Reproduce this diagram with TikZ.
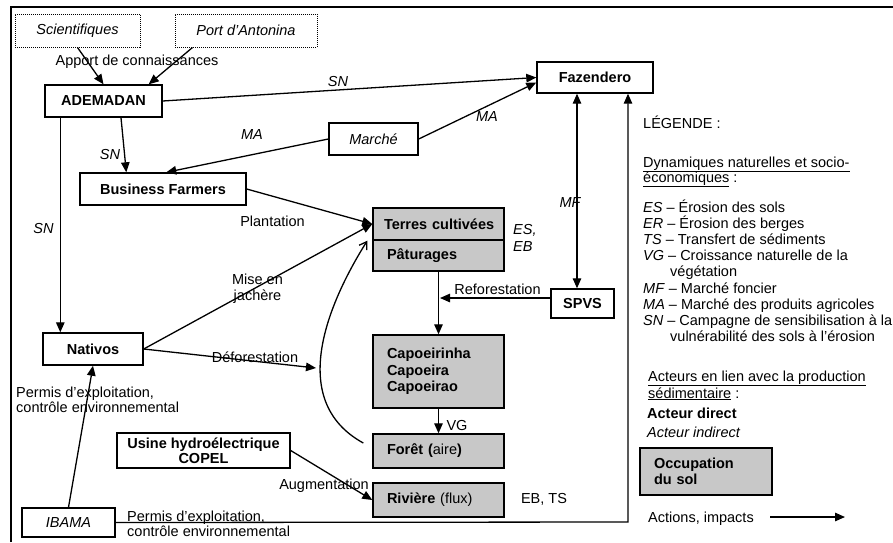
\documentclass[tikz,border=0pt]{standalone}
\usepackage{fontspec}
\setmainfont{Liberation Sans}
\usetikzlibrary{arrows.meta,calc}
\definecolor{boxgray}{RGB}{200,200,200}
\newcommand{\myfs}{\fontsize{14.5}{16.5}\selectfont}
\begin{document}
\begin{tikzpicture}[x=1pt,y=-1pt,
  every node/.style={font=\myfs, inner sep=0pt},
  bx/.style={draw, line width=1.4pt, align=center},
  dbx/.style={draw, line width=1pt, dash pattern=on 1pt off 1pt, align=center},
  gbx/.style={draw, line width=1.4pt, fill=boxgray, align=left, text width=103pt, inner xsep=14pt, minimum width=131pt, font=\myfs\bfseries},
  bold/.style={font=\myfs\bfseries},
  ital/.style={font=\myfs\itshape},
  arr/.style={line width=1.3pt, -{Triangle[length=10pt,width=8.5pt]}},
  dblarr/.style={line width=1.3pt, {Triangle[length=10pt,width=8.5pt]}-{Triangle[length=10pt,width=8.5pt]}},
  ln/.style={line width=1.3pt},
  leg/.style={anchor=base west},
]
\useasboundingbox (0,0) rectangle (893,542);
% frame
\draw[line width=2pt] (11,542) -- (11,7) -- (893,7);

% boxes
\node[dbx, ital, minimum width=125pt, minimum height=33pt] (sci) at (77.5,30.5) {Scientifiques};
\node[dbx, ital, minimum width=142pt, minimum height=33pt] (port) at (246,30.5) {Port d’Antonina};
\node[bx, bold, minimum width=117pt, minimum height=32pt] (adem) at (103.5,101) {ADEMADAN};
\node[bx, bold, minimum width=116pt, minimum height=31pt] (faz) at (595,77.5) {Fazendero};
\node[bx, ital, minimum width=89pt, minimum height=32pt] (marche) at (373.5,139) {Marché};
\node[bx, bold, minimum width=166pt, minimum height=32pt] (bf) at (163,189) {Business Farmers};
\node[gbx, inner xsep=9pt, text width=113pt, minimum height=32pt] (terres) at (438.5,224) {\hspace*{2pt}Terres cultivées};
\node[gbx, minimum height=31pt] (patur) at (438.5,255.5) {Pâturages};
\node[bx, bold, minimum width=63pt, minimum height=29pt] (spvs) at (582.5,303.5) {SPVS};
\node[bx, bold, minimum width=100pt, minimum height=32pt] (nativos) at (93,349) {Nativos};
\node[gbx, minimum height=73pt] (capo) at (438.5,371.5) {Capoeirinha\\Capoeira\\Capoeirao};
\node[gbx, minimum height=34pt] (foret) at (438.5,451) {Forêt (\textmd{aire})};
\node[gbx, minimum height=34pt] (riv) at (438.5,500) {Rivière \textmd{(flux)}};
\node[bx, bold, minimum width=173pt, minimum height=35pt, font=\fontsize{14.5}{15}\selectfont\bfseries] (usine) at (203.5,450.5) {Usine hydroélectrique\\COPEL};
\node[bx, ital, minimum width=93pt, minimum height=29pt] (ibama) at (68.5,522.5) {IBAMA};
\node[gbx, text width=104pt, minimum width=132pt, minimum height=47pt, font=\fontsize{14.5}{15.5}\selectfont\bfseries] (occup) at (706,471.5) {Occupation\\du sol};

% labels
\node (lapport) at (137,62) {Apport de connaissances};
\node[ital] (lsn1) at (338,82) {SN};
\node[ital] (lma1) at (252,135) {MA};
\node[ital] (lma2) at (487,117) {MA};
\node[ital] (lsn2) at (110,155) {SN};
\node[ital] (lsn3) at (43.5,228) {SN};
\node[ital] (lmf) at (570,203) {MF};
\node[ital, align=left, anchor=west] (leseb) at (513,238) {ES,\\EB};
\node (lplant) at (272.5,221) {Plantation};
\node[align=center] (lmise) at (257.5,288.5) {Mise en\\jachère};
\node (lrefo) at (497.5,289) {Reforestation};
\node (ldefo) at (255,357) {Déforestation};
\node[align=left, anchor=west, font=\fontsize{14.5}{15.5}\selectfont] (lpermis1) at (16,400) {Permis d'exploitation,\\contrôle environnemental};
\node (lvg) at (457,425) {VG};
\node (laugm) at (324,486) {Augmentation};
\node (lebts) at (544,499) {EB, TS};
\node[align=left, anchor=west, font=\fontsize{14.5}{15.5}\selectfont] (lpermis2) at (127,524) {Permis d'exploitation,\\contrôle environnemental};

% connectors
\draw[arr] (sci.south) -- (adem.north);
\draw[arr] ($(port.south west)+(18,0)$) -- ($(adem.north east)+(-14,0)$);
\draw[arr] (adem.east) -- (faz.west);
\draw[arr] ($(adem.south)+(17.5,0)$) -- ($(bf.north west)+(47,0)$);
\draw[arr] (marche.west) -- ($(bf.north west)+(87,0)$);
\draw[arr] (marche.east) -- ($(faz.west)+(0,5)$);
\draw[arr] ($(adem.south west)+(16,0)$) -- ($(nativos.north west)+(18,0)$);
\draw[arr] (bf.east) -- (terres.west);
\draw[arr] (nativos.east) -- (terres.west);
\coordinate (defo) at (316,368);
\draw[arr] (nativos.east) -- (defo);
\draw[arr] (ibama.north) -- (nativos.south);
\coordinate (corner) at (628,522);
\draw[arr] (ibama.east) -- (corner) -- (faz.south -| corner);
\coordinate (mfx) at (577,0);
\draw[dblarr] (faz.south -| mfx) -- (spvs.north -| mfx);
\draw[arr] (patur.south) -- (capo.north);
\coordinate (refo) at (440,298);
\draw[arr] ($(spvs.west)+(0,-5.5)$) -- (refo);
\draw[arr] (capo.south) -- (foret.north);
\draw[arr] (usine.east) -- (riv.west);
\draw[ln, -{Straight Barb[length=7pt,width=9pt]}] ($(foret.west)+(-9,-8)$) .. controls (285,400) and (330,300) .. ($(terres.south west)+(-5,0)$);

% legend
\node[leg] (g0) at (643,128) {LÉGENDE :};
\node[leg] (g1) at (643,167) {\underline{Dynamiques naturelles et socio-}};
\node[leg] (g2) at (643,182) {\underline{économiques} :};
\node[leg] (g3) at (643,212) {\textit{ES} – Érosion des sols};
\node[leg] (g4) at (643,228.2) {\textit{ER} – Érosion des berges};
\node[leg] (g5) at (643,244.4) {\textit{TS} – Transfert de sédiments};
\node[leg] (g6) at (643,260.6) {\textit{VG} – Croissance naturelle de la};
\node[leg] (g7) at (670,276.8) {végétation};
\node[leg] (g8) at (643,293) {\textit{MF} – Marché foncier};
\node[leg] (g9) at (643,309.2) {\textit{MA} – Marché des produits agricoles};
\node[leg] (g10) at (643,325.4) {\textit{SN} – Campagne de sensibilisation à la};
\node[leg] (g11) at (670,341.6) {vulnérabilité des sols à l’érosion};
\node[leg] (g12) at (648,381) {\underline{Acteurs en lien avec la production}};
\node[leg] (g13) at (648,398) {\underline{sédimentaire} :};
\node[leg, bold] (g14) at (647,418) {Acteur direct};
\node[leg, ital] (g15) at (647,437) {Acteur indirect};
\node[leg] (g16) at (648,522) {Actions, impacts};
\coordinate (la1) at (770,517);
\coordinate (la2) at (845,517);
\draw[arr] (la1) -- (la2);
\end{tikzpicture}
\end{document}
